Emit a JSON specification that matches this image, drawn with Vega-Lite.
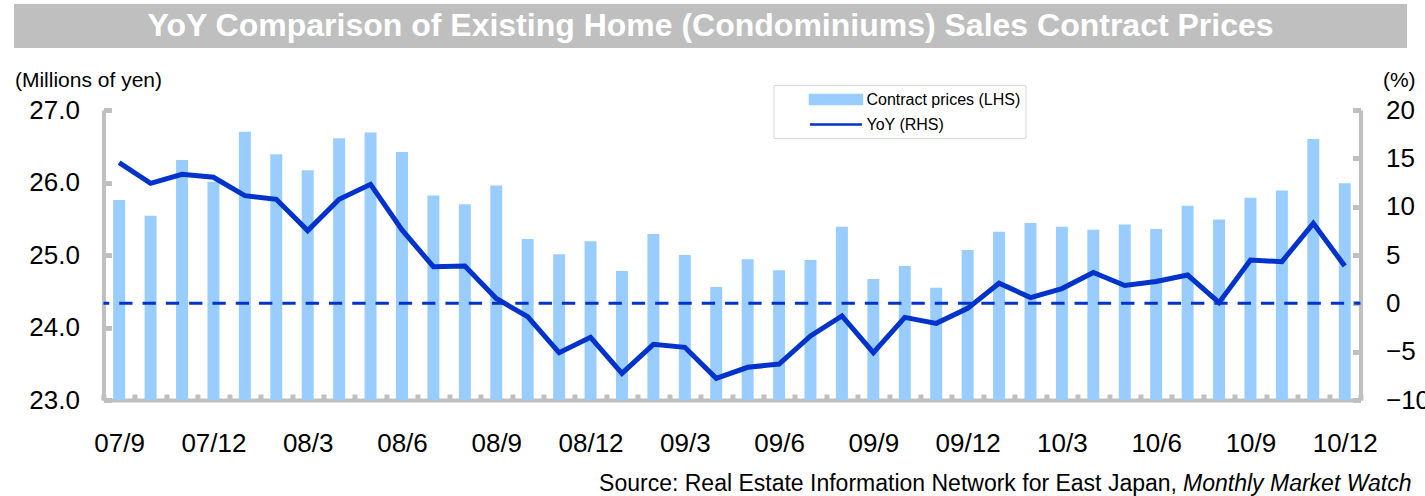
{
  "$schema": "https://vega.github.io/schema/vega-lite/v6.json",
  "padding": {"left": 14, "top": 4, "right": 0, "bottom": 0},
  "config": {
    "font": "Liberation Sans",
    "view": {"stroke": null},
    "axis": {"labelColor": "#000000", "titleColor": "#000000", "grid": false}
  },
  "datasets": {
    "monthly": [
      {"month": "07/9", "price": 25.76, "yoy": 14.55},
      {"month": "07/10", "price": 25.54, "yoy": 12.41},
      {"month": "07/11", "price": 26.31, "yoy": 13.35},
      {"month": "07/12", "price": 26.01, "yoy": 13.04},
      {"month": "08/1", "price": 26.70, "yoy": 11.14},
      {"month": "08/2", "price": 26.39, "yoy": 10.76},
      {"month": "08/3", "price": 26.17, "yoy": 7.52},
      {"month": "08/4", "price": 26.61, "yoy": 10.76},
      {"month": "08/5", "price": 26.69, "yoy": 12.31},
      {"month": "08/6", "price": 26.42, "yoy": 7.59},
      {"month": "08/7", "price": 25.82, "yoy": 3.79},
      {"month": "08/8", "price": 25.70, "yoy": 3.86},
      {"month": "08/9", "price": 25.96, "yoy": 0.5},
      {"month": "08/10", "price": 25.22, "yoy": -1.38},
      {"month": "08/11", "price": 25.01, "yoy": -5.10},
      {"month": "08/12", "price": 25.19, "yoy": -3.51},
      {"month": "09/1", "price": 24.78, "yoy": -7.24},
      {"month": "09/2", "price": 25.29, "yoy": -4.24},
      {"month": "09/3", "price": 25.00, "yoy": -4.55},
      {"month": "09/4", "price": 24.56, "yoy": -7.76},
      {"month": "09/5", "price": 24.94, "yoy": -6.62},
      {"month": "09/6", "price": 24.79, "yoy": -6.28},
      {"month": "09/7", "price": 24.93, "yoy": -3.38},
      {"month": "09/8", "price": 25.39, "yoy": -1.31},
      {"month": "09/9", "price": 24.67, "yoy": -5.10},
      {"month": "09/10", "price": 24.85, "yoy": -1.45},
      {"month": "09/11", "price": 24.55, "yoy": -2.07},
      {"month": "09/12", "price": 25.07, "yoy": -0.52},
      {"month": "10/1", "price": 25.32, "yoy": 2.08},
      {"month": "10/2", "price": 25.44, "yoy": 0.60},
      {"month": "10/3", "price": 25.39, "yoy": 1.53},
      {"month": "10/4", "price": 25.35, "yoy": 3.19},
      {"month": "10/5", "price": 25.42, "yoy": 1.84},
      {"month": "10/6", "price": 25.36, "yoy": 2.26},
      {"month": "10/7", "price": 25.68, "yoy": 2.93},
      {"month": "10/8", "price": 25.49, "yoy": 0.07},
      {"month": "10/9", "price": 25.79, "yoy": 4.48},
      {"month": "10/10", "price": 25.89, "yoy": 4.31},
      {"month": "10/11", "price": 26.60, "yoy": 8.28},
      {"month": "10/12", "price": 25.99, "yoy": 3.86}
    ]
  },
  "concat": [
    {
      "width": 1393,
      "height": 44,
      "view": {"fill": "#BFBFBF", "stroke": null},
      "data": {"values": [{"heading": "YoY Comparison of Existing Home (Condominiums) Sales Contract Prices", "mid": 0}]},
      "mark": {"type": "text", "font": "Liberation Sans", "fontSize": 32, "fontWeight": "bold", "color": "#FFFFFF", "baseline": "middle", "align": "center"},
      "encoding": {
        "text": {"field": "heading", "type": "nominal"},
        "y": {
          "field": "mid",
          "type": "quantitative",
          "scale": {"domain": [-1, 1]},
          "axis": {"orient": "right", "offset": 112, "labels": false, "ticks": false, "grid": false, "title": null, "domainOpacity": 0}
        }
      }
    },
    {
      "width": 1257,
      "height": 290,
      "data": {"name": "monthly"},
      "title": {
        "text": "Monthly Market Watch",
        "orient": "bottom",
        "anchor": "end",
        "frame": "group",
        "fontStyle": "italic",
        "fontWeight": "normal",
        "fontSize": 23,
        "font": "Liberation Sans",
        "color": "#000000",
        "baseline": "middle",
        "dx": 51,
        "offset": -11
      },
      "encoding": {
        "x": {
          "field": "month",
          "type": "ordinal",
          "sort": null,
          "scale": {"paddingInner": 0, "paddingOuter": 0},
          "axis": {
            "labelAngle": 0,
            "labelExpr": "test(/\\/(3|6|9|12)$/, datum.value) ? datum.value : ''",
            "labelOverlap": false,
            "labelFontSize": 26,
            "labelPadding": 36,
            "tickBand": "extent",
            "tickSize": -6,
            "tickWidth": 5,
            "tickColor": "#BFBFBF",
            "domainColor": "#BFBFBF",
            "domainWidth": 4,
            "title": "Source: Real Estate Information Network for East Japan,",
            "titleX": 1073,
            "titleY": 83,
            "titleAlign": "right",
            "titleBaseline": "middle",
            "titleFontSize": 23,
            "titleFontWeight": "normal"
          }
        }
      },
      "layer": [
        {
          "mark": {"type": "bar", "width": {"band": 0.38}},
          "encoding": {
            "y": {
              "field": "price",
              "type": "quantitative",
              "scale": {"domain": [23, 27], "zero": false, "nice": false},
              "axis": {
                "orient": "left",
                "values": [23, 24, 25, 26, 27],
                "format": ".1f",
                "labelFontSize": 26,
                "labelPadding": 32,
                "tickSize": -8,
                "tickWidth": 5,
                "tickColor": "#BFBFBF",
                "domainColor": "#BFBFBF",
                "domainWidth": 4,
                "title": "(Millions of yen)",
                "titleAngle": 0,
                "titleX": -89,
                "titleY": -30,
                "titleAlign": "left",
                "titleBaseline": "middle",
                "titleFontSize": 21,
                "titleFontWeight": "normal"
              }
            },
            "y2": {"datum": 23},
            "color": {
              "datum": "Contract prices (LHS)",
              "type": "nominal",
              "scale": {"domain": ["Contract prices (LHS)", "YoY (RHS)"], "range": ["#99CCFF", "#0033CC"]},
              "legend": {
                "title": null,
                "orient": "none",
                "legendX": 670,
                "legendY": -25,
                "padding": 5,
                "strokeColor": "#D9D9D9",
                "fillColor": "#FFFFFF",
                "labelFontSize": 16,
                "labelFont": "Liberation Sans",
                "labelColor": "#000000",
                "labelLimit": 400,
                "symbolSize": 256,
                "symbolOffset": 48,
                "labelOffset": 21,
                "rowPadding": 6,
                "labelExpr": "datum.label + '\u00a0\u00a0\u00a0\u00a0\u00a0\u00a0\u00a0'",
                "encode": {
                  "symbols": {
                    "update": {
                      "shape": {"signal": "datum.value == 'YoY (RHS)' ? 'M-3.25,0H3.25' : 'M-3.25,-0.5625H3.25V0.5625H-3.25Z'"},
                      "fill": {"signal": "datum.value == 'YoY (RHS)' ? 'transparent' : '#99CCFF'"},
                      "stroke": {"signal": "datum.value == 'YoY (RHS)' ? '#0033CC' : 'transparent'"},
                      "strokeWidth": {"value": 2.5},
                      "opacity": {"value": 1}
                    }
                  }
                }
              }
            }
          }
        },
        {
          "layer": [
            {
              "data": {"values": [{"zero": 0}]},
              "mark": {"type": "rule", "color": "#0033CC", "strokeWidth": 3, "strokeDash": [13.3, 10], "strokeDashOffset": 7},
              "encoding": {
                "x": null,
                "y": {"field": "zero", "type": "quantitative"}
              }
            },
            {
              "mark": {"type": "line", "strokeWidth": 5},
              "encoding": {
                "y": {
                  "field": "yoy",
                  "type": "quantitative",
                  "scale": {"domain": [-10, 20], "nice": false, "zero": false},
                  "axis": {
                    "orient": "right",
                    "values": [-10, -5, 0, 5, 10, 15, 20],
                    "labelFontSize": 26,
                    "labelPadding": 33,
                    "tickSize": -8,
                    "tickWidth": 5,
                    "tickColor": "#BFBFBF",
                    "domainColor": "#BFBFBF",
                    "domainWidth": 4,
                    "title": "(%)",
                    "titleAngle": 0,
                    "titleX": 22,
                    "titleY": -30,
                    "titleAlign": "left",
                    "titleBaseline": "middle",
                    "titleFontSize": 21,
                    "titleFontWeight": "normal"
                  }
                },
                "color": {"datum": "YoY (RHS)", "type": "nominal"}
              }
            }
          ]
        }
      ],
      "resolve": {"scale": {"y": "independent"}, "axis": {"y": "independent"}}
    }
  ],
  "resolve": {"legend": {"color": "independent"}},
  "columns": 1,
  "center": true,
  "spacing": 21
}
